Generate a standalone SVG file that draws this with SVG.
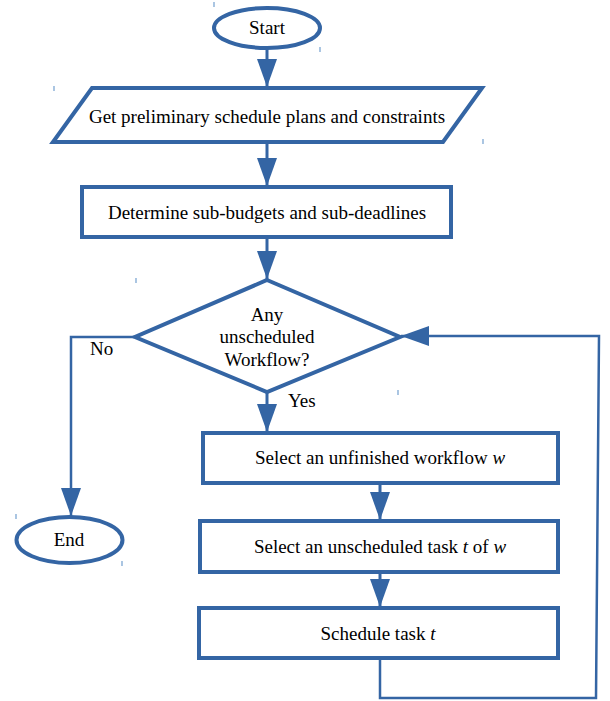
<svg xmlns="http://www.w3.org/2000/svg" width="610" height="701" viewBox="0 0 610 701">
<style>
.node{fill:#ffffff;stroke:#3465a4;stroke-width:4;stroke-linejoin:miter}
.t{font-family:"Liberation Serif","Times New Roman",serif;font-size:19px;fill:#000000;text-anchor:middle}
.lbl{font-family:"Liberation Serif","Times New Roman",serif;font-size:19px;fill:#000000}
.c{fill:none;stroke:#3465a4;stroke-width:3}
.c2{fill:none;stroke:#3465a4;stroke-width:2.5}
.tick{stroke:#729fcf;stroke-width:1.2}
</style>
<defs>
<marker id="ah" markerUnits="userSpaceOnUse" markerWidth="28" markerHeight="20" refX="28" refY="10" orient="auto">
<path d="M0,0 L28,10 L0,20 z" fill="#3465a4"/>
</marker>
</defs>
<rect width="610" height="701" fill="#ffffff"/>
<g id="connectors">
<line class="c" x1="267" y1="48" x2="267" y2="87" marker-end="url(#ah)"/>
<line class="c" x1="267" y1="142" x2="267" y2="186" marker-end="url(#ah)"/>
<line class="c" x1="267" y1="237" x2="267" y2="279" marker-end="url(#ah)"/>
<line class="c" x1="267" y1="392" x2="267" y2="432" marker-end="url(#ah)"/>
<polyline class="c2" points="134,337 71,337 71,516" marker-end="url(#ah)"/>
<line class="c" x1="380" y1="483" x2="380" y2="520" marker-end="url(#ah)"/>
<line class="c" x1="380" y1="572" x2="380" y2="607" marker-end="url(#ah)"/>
<polyline class="c2" points="380,658 380,698 596,698 599,336 401,336" marker-end="url(#ah)"/>
</g>
<g id="start">
<ellipse class="node" cx="267" cy="28" rx="53" ry="20"/>
<text class="t" x="267" y="34">Start</text>
</g>
<g id="get-plans">
<polygon class="node" points="92,88 482,88 443,142 53,142"/>
<text class="t" x="267" y="123">Get preliminary schedule plans and constraints</text>
</g>
<g id="determine">
<rect class="node" x="82" y="187" width="369" height="50"/>
<text class="t" x="267" y="219">Determine sub-budgets and sub-deadlines</text>
</g>
<g id="decision">
<polygon class="node" points="267,280 400,337 267,392 135,337"/>
<text class="t" x="267" y="321">Any</text>
<text class="t" x="267" y="343">unscheduled</text>
<text class="t" x="267" y="366">Workflow?</text>
</g>
<g id="label-no"><text class="lbl" x="90" y="355">No</text></g>
<g id="label-yes"><text class="lbl" x="288" y="407">Yes</text></g>
<g id="end">
<ellipse class="node" cx="69.5" cy="540" rx="53" ry="23"/>
<text class="t" x="69" y="546">End</text>
</g>
<g id="select-workflow">
<rect class="node" x="203" y="433" width="355" height="50"/>
<text class="t" x="380" y="464">Select an unfinished workflow <tspan font-style="italic">w</tspan></text>
</g>
<g id="select-task">
<rect class="node" x="200" y="521" width="358" height="51"/>
<text class="t" x="380" y="553">Select an unscheduled task <tspan font-style="italic">t</tspan> of <tspan font-style="italic">w</tspan></text>
</g>
<g id="schedule-task">
<rect class="node" x="199" y="608" width="359" height="50"/>
<text class="t" x="378" y="640">Schedule task <tspan font-style="italic">t</tspan></text>
</g>
<g id="marks">
<line class="tick" x1="214" y1="2" x2="214" y2="7"/>
<line class="tick" x1="320" y1="47" x2="320" y2="52"/>
<line class="tick" x1="54" y1="86" x2="54" y2="91"/>
<line class="tick" x1="483" y1="139" x2="483" y2="144"/>
<line class="tick" x1="136" y1="278" x2="136" y2="283"/>
<line class="tick" x1="398" y1="390" x2="398" y2="395"/>
<line class="tick" x1="16" y1="514" x2="16" y2="519"/>
<line class="tick" x1="122" y1="561" x2="122" y2="566"/>
</g>
</svg>
